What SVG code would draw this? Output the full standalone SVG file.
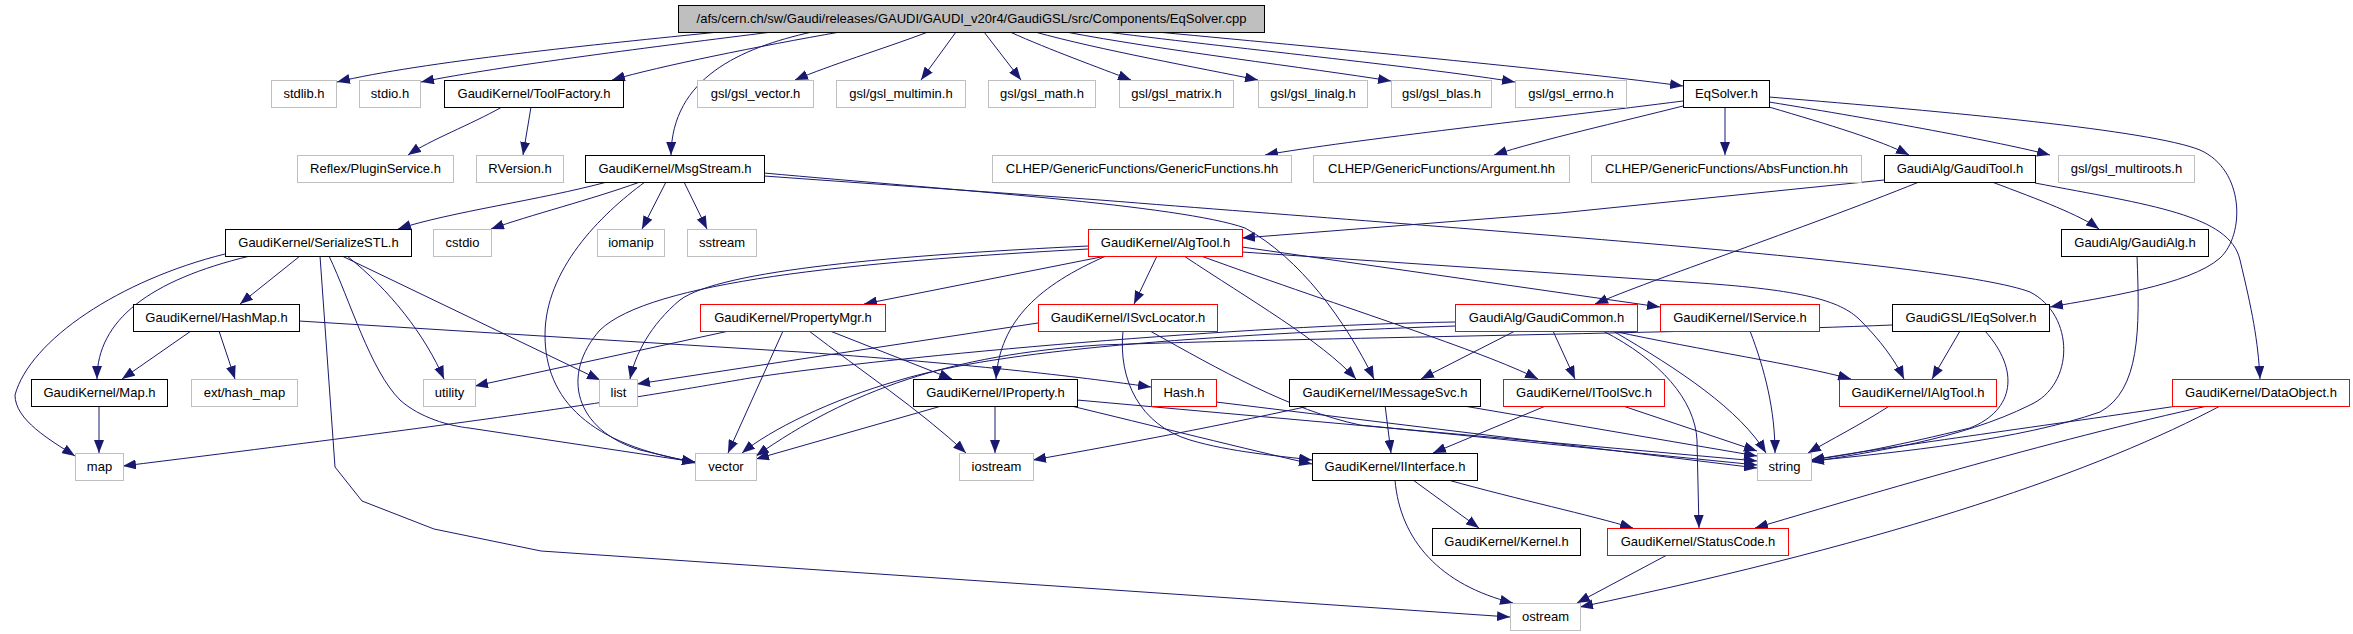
<svg xmlns="http://www.w3.org/2000/svg" width="2353" height="634" viewBox="0 0 2353 634">
<style>
.n rect{stroke-width:1}
.sys rect{fill:#fff;stroke:#bfbfbf}
.ok rect{fill:#fff;stroke:#000}
.tr rect{fill:#fff;stroke:#ff0000}
.root rect{fill:#bfbfbf;stroke:#000}
.n text{font-family:"Liberation Sans",Arial,sans-serif;font-size:13px;fill:#000;text-anchor:middle}
#edges path{fill:none;stroke:#191970;stroke-width:1;marker-end:url(#ah)}
</style>
<defs>
<marker id="ah" markerUnits="userSpaceOnUse" markerWidth="13" markerHeight="10" viewBox="0 0 13 10" refX="13" refY="5" orient="auto">
<path d="M0,0 L13,5 L0,10 z" fill="#191970" stroke="none"/>
</marker>
</defs>
<rect width="2353" height="634" fill="#fff"/>
<g id="edges">
<path d="M719,32 C600,44 420,62 337,82"/>
<path d="M772,32 C660,46 500,66 421,82"/>
<path d="M840,32 C760,46 660,66 612,80"/>
<path d="M812,32 C740,48 672,78 671,155"/>
<path d="M928,32 C880,50 830,65 795,80"/>
<path d="M956,32 L921,80"/>
<path d="M984,32 L1021,80"/>
<path d="M1010,32 C1050,50 1100,68 1131,80"/>
<path d="M1035,32 C1100,50 1200,68 1258,80"/>
<path d="M1066,32 C1160,50 1310,68 1391,81"/>
<path d="M1106,32 C1250,50 1430,68 1515,82"/>
<path d="M1157,32 C1350,50 1580,72 1683,86"/>
<path d="M502,107 C470,125 430,140 408,155"/>
<path d="M531,107 L523,155"/>
<path d="M1683,101 C1550,118 1350,140 1265,155"/>
<path d="M1683,106 C1620,122 1540,140 1494,155"/>
<path d="M1725,107 L1725,155"/>
<path d="M1769,107 C1830,125 1880,140 1909,155"/>
<path d="M1769,102 C1880,120 2000,142 2050,155"/>
<path d="M1769,97 C1950,112 2150,130 2200,150 C2245,170 2245,235 2220,258 C2190,285 2100,298 2050,307"/>
<path d="M607,182 C540,200 450,212 398,229"/>
<path d="M640,182 C590,200 530,215 491,229"/>
<path d="M666,182 L642,229"/>
<path d="M684,182 L707,229"/>
<path d="M645,182 C600,215 545,270 545,335 C545,400 590,445 695,462"/>
<path d="M764,173 C950,190 1180,205 1245,228 C1300,258 1345,320 1374,379"/>
<path d="M764,176 L1100,200 C1500,232 1950,262 2030,292 C2075,315 2075,385 2030,405 C1960,440 1870,452 1811,462"/>
<path d="M300,256 L240,304"/>
<path d="M250,256 C150,280 97,320 97,379"/>
<path d="M225,254 C120,280 30,340 15,395 C15,420 50,440 75,456"/>
<path d="M320,256 L335,467 L362,501 L434,529 L541,551 L1510,617"/>
<path d="M329,256 C350,300 370,370 400,400 C420,418 450,426 469,428 L695,462"/>
<path d="M347,256 C390,290 425,335 444,379"/>
<path d="M342,256 L600,380"/>
<path d="M191,331 L122,379"/>
<path d="M219,331 L235,379"/>
<path d="M299,321 L800,352 C1000,366 1100,380 1151,387"/>
<path d="M99,405 L99,453"/>
<path d="M1106,256 L864,304"/>
<path d="M1088,246 C900,255 720,270 680,300 C650,325 635,355 630,379"/>
<path d="M1088,249 C850,262 650,282 600,330 C560,375 575,430 640,450 L695,463"/>
<path d="M1157,256 L1134,304"/>
<path d="M1184,256 C1250,300 1320,340 1356,379"/>
<path d="M1201,256 C1350,310 1480,350 1538,379"/>
<path d="M1242,247 L1660,307"/>
<path d="M1242,252 L1700,283 C1800,290 1840,300 1860,320 C1880,340 1895,360 1904,379"/>
<path d="M1106,256 C1040,285 1000,320 996,379"/>
<path d="M729,331 L475,386"/>
<path d="M783,331 L728,453"/>
<path d="M809,331 C860,370 920,410 966,453"/>
<path d="M830,331 L952,379"/>
<path d="M1038,323 L637,384"/>
<path d="M1123,331 C1118,380 1140,425 1190,440 C1230,452 1280,456 1312,460"/>
<path d="M1150,331 C1220,370 1290,410 1360,425 L1757,465"/>
<path d="M995,405 L995,453"/>
<path d="M945,405 L756,459"/>
<path d="M1077,400 L1757,461"/>
<path d="M1067,405 C1150,425 1250,450 1312,464"/>
<path d="M1216,402 L1757,468"/>
<path d="M1385,405 L1391,453"/>
<path d="M1314,405 C1200,430 1100,448 1033,460"/>
<path d="M1458,405 L1757,456"/>
<path d="M1548,405 L1433,453"/>
<path d="M1620,405 L1757,451"/>
<path d="M1515,331 L1421,379"/>
<path d="M1553,331 L1575,379"/>
<path d="M1613,331 C1700,350 1800,365 1851,379"/>
<path d="M1603,331 C1660,360 1695,400 1697,440 L1699,528"/>
<path d="M1613,331 C1680,370 1740,410 1766,453"/>
<path d="M1455,322 C1250,325 900,355 750,378 C650,395 560,412 123,466"/>
<path d="M1455,326 C1200,335 1000,350 900,380 C830,400 770,430 742,453"/>
<path d="M1960,331 L1932,379"/>
<path d="M1985,331 C2020,370 2015,410 1970,428 C1900,445 1850,455 1811,460"/>
<path d="M1892,325 C1700,333 1300,338 1100,345 C950,355 850,390 756,456"/>
<path d="M1891,405 C1860,425 1830,440 1808,453"/>
<path d="M1750,331 C1765,370 1775,410 1775,453"/>
<path d="M2137,256 C2140,330 2140,390 2100,412 C2020,440 1900,452 1811,461"/>
<path d="M2184,405 C2050,425 1900,445 1811,460"/>
<path d="M2212,405 C2050,440 1850,500 1755,528"/>
<path d="M2222,405 C2100,470 1900,540 1580,607"/>
<path d="M1884,180 L1560,213 L1242,238"/>
<path d="M1919,182 C1800,230 1650,280 1595,304"/>
<path d="M1992,182 C2040,200 2080,215 2099,229"/>
<path d="M2035,183 C2150,205 2230,215 2240,260 C2252,310 2258,340 2260,379"/>
<path d="M1413,480 L1479,528"/>
<path d="M1395,480 C1400,540 1440,585 1513,603"/>
<path d="M1448,480 C1520,500 1590,515 1633,528"/>
<path d="M1667,555 L1577,603"/>
</g>
<g id="n_root" class="n root"><rect x="678.5" y="5.5" width="586" height="27"/><text x="971.5" y="23">/afs/cern.ch/sw/Gaudi/releases/GAUDI/GAUDI_v20r4/GaudiGSL/src/Components/EqSolver.cpp</text></g>
<g id="n_stdlib" class="n sys"><rect x="271.5" y="80.5" width="65" height="27"/><text x="304" y="98">stdlib.h</text></g>
<g id="n_stdio" class="n sys"><rect x="359.5" y="80.5" width="61" height="27"/><text x="390" y="98">stdio.h</text></g>
<g id="n_toolfactory" class="n ok"><rect x="444.5" y="80.5" width="179" height="27"/><text x="534" y="98">GaudiKernel/ToolFactory.h</text></g>
<g id="n_gsl_vector" class="n sys"><rect x="697.5" y="80.5" width="116" height="27"/><text x="755.5" y="98">gsl/gsl_vector.h</text></g>
<g id="n_gsl_multimin" class="n sys"><rect x="836.5" y="80.5" width="129" height="27"/><text x="901" y="98">gsl/gsl_multimin.h</text></g>
<g id="n_gsl_math" class="n sys"><rect x="988.5" y="80.5" width="107" height="27"/><text x="1042" y="98">gsl/gsl_math.h</text></g>
<g id="n_gsl_matrix" class="n sys"><rect x="1119.5" y="80.5" width="114" height="27"/><text x="1176.5" y="98">gsl/gsl_matrix.h</text></g>
<g id="n_gsl_linalg" class="n sys"><rect x="1258.5" y="80.5" width="109" height="27"/><text x="1313" y="98">gsl/gsl_linalg.h</text></g>
<g id="n_gsl_blas" class="n sys"><rect x="1391.5" y="80.5" width="100" height="27"/><text x="1441.5" y="98">gsl/gsl_blas.h</text></g>
<g id="n_gsl_errno" class="n sys"><rect x="1515.5" y="80.5" width="111" height="27"/><text x="1571" y="98">gsl/gsl_errno.h</text></g>
<g id="n_eqsolver_h" class="n ok"><rect x="1683.5" y="80.5" width="86" height="27"/><text x="1726.5" y="98">EqSolver.h</text></g>
<g id="n_pluginservice" class="n sys"><rect x="297.5" y="155.5" width="156" height="27"/><text x="375.5" y="173">Reflex/PluginService.h</text></g>
<g id="n_rversion" class="n sys"><rect x="476.5" y="155.5" width="87" height="27"/><text x="520" y="173">RVersion.h</text></g>
<g id="n_msgstream" class="n ok"><rect x="585.5" y="155.5" width="179" height="27"/><text x="675" y="173">GaudiKernel/MsgStream.h</text></g>
<g id="n_genericfunctions" class="n sys"><rect x="992.5" y="155.5" width="299" height="27"/><text x="1142" y="173">CLHEP/GenericFunctions/GenericFunctions.hh</text></g>
<g id="n_argument" class="n sys"><rect x="1313.5" y="155.5" width="256" height="27"/><text x="1441.5" y="173">CLHEP/GenericFunctions/Argument.hh</text></g>
<g id="n_absfunction" class="n sys"><rect x="1591.5" y="155.5" width="270" height="27"/><text x="1726.5" y="173">CLHEP/GenericFunctions/AbsFunction.hh</text></g>
<g id="n_gauditool" class="n ok"><rect x="1884.5" y="155.5" width="151" height="27"/><text x="1960" y="173">GaudiAlg/GaudiTool.h</text></g>
<g id="n_gsl_multiroots" class="n sys"><rect x="2058.5" y="155.5" width="136" height="27"/><text x="2126.5" y="173">gsl/gsl_multiroots.h</text></g>
<g id="n_serializestl" class="n ok"><rect x="225.5" y="229.5" width="186" height="27"/><text x="318.5" y="247">GaudiKernel/SerializeSTL.h</text></g>
<g id="n_cstdio" class="n sys"><rect x="433.5" y="229.5" width="58" height="27"/><text x="462.5" y="247">cstdio</text></g>
<g id="n_iomanip" class="n sys"><rect x="597.5" y="229.5" width="67" height="27"/><text x="631" y="247">iomanip</text></g>
<g id="n_sstream" class="n sys"><rect x="687.5" y="229.5" width="69" height="27"/><text x="722" y="247">sstream</text></g>
<g id="n_algtool" class="n tr"><rect x="1088.5" y="229.5" width="154" height="27"/><text x="1165.5" y="247">GaudiKernel/AlgTool.h</text></g>
<g id="n_gaudialg" class="n ok"><rect x="2061.5" y="229.5" width="147" height="27"/><text x="2135" y="247">GaudiAlg/GaudiAlg.h</text></g>
<g id="n_hashmap" class="n ok"><rect x="133.5" y="304.5" width="166" height="27"/><text x="216.5" y="322">GaudiKernel/HashMap.h</text></g>
<g id="n_propertymgr" class="n tr"><rect x="700.5" y="304.5" width="185" height="27"/><text x="793" y="322">GaudiKernel/PropertyMgr.h</text></g>
<g id="n_isvclocator" class="n tr"><rect x="1038.5" y="304.5" width="179" height="27"/><text x="1128" y="322">GaudiKernel/ISvcLocator.h</text></g>
<g id="n_gaudicommon" class="n tr"><rect x="1455.5" y="304.5" width="182" height="27"/><text x="1546.5" y="322">GaudiAlg/GaudiCommon.h</text></g>
<g id="n_iservice" class="n tr"><rect x="1660.5" y="304.5" width="159" height="27"/><text x="1740" y="322">GaudiKernel/IService.h</text></g>
<g id="n_ieqsolver" class="n ok"><rect x="1892.5" y="304.5" width="157" height="27"/><text x="1971" y="322">GaudiGSL/IEqSolver.h</text></g>
<g id="n_map_h" class="n ok"><rect x="31.5" y="379.5" width="136" height="27"/><text x="99.5" y="397">GaudiKernel/Map.h</text></g>
<g id="n_ext_hash_map" class="n sys"><rect x="191.5" y="379.5" width="106" height="27"/><text x="244.5" y="397">ext/hash_map</text></g>
<g id="n_utility" class="n sys"><rect x="423.5" y="379.5" width="52" height="27"/><text x="449.5" y="397">utility</text></g>
<g id="n_list" class="n sys"><rect x="599.5" y="379.5" width="38" height="27"/><text x="618.5" y="397">list</text></g>
<g id="n_iproperty" class="n ok"><rect x="913.5" y="379.5" width="164" height="27"/><text x="995.5" y="397">GaudiKernel/IProperty.h</text></g>
<g id="n_hash" class="n tr"><rect x="1151.5" y="379.5" width="65" height="27"/><text x="1184" y="397">Hash.h</text></g>
<g id="n_imessagesvc" class="n ok"><rect x="1289.5" y="379.5" width="191" height="27"/><text x="1385" y="397">GaudiKernel/IMessageSvc.h</text></g>
<g id="n_itoolsvc" class="n tr"><rect x="1503.5" y="379.5" width="161" height="27"/><text x="1584" y="397">GaudiKernel/IToolSvc.h</text></g>
<g id="n_ialgtool" class="n tr"><rect x="1839.5" y="379.5" width="157" height="27"/><text x="1918" y="397">GaudiKernel/IAlgTool.h</text></g>
<g id="n_dataobject" class="n tr"><rect x="2172.5" y="379.5" width="177" height="27"/><text x="2261" y="397">GaudiKernel/DataObject.h</text></g>
<g id="n_map" class="n sys"><rect x="75.5" y="453.5" width="48" height="27"/><text x="99.5" y="471">map</text></g>
<g id="n_vector" class="n sys"><rect x="695.5" y="453.5" width="61" height="27"/><text x="726" y="471">vector</text></g>
<g id="n_iostream" class="n sys"><rect x="959.5" y="453.5" width="74" height="27"/><text x="996.5" y="471">iostream</text></g>
<g id="n_iinterface" class="n ok"><rect x="1312.5" y="453.5" width="165" height="27"/><text x="1395" y="471">GaudiKernel/IInterface.h</text></g>
<g id="n_string" class="n sys"><rect x="1757.5" y="453.5" width="54" height="27"/><text x="1784.5" y="471">string</text></g>
<g id="n_kernel" class="n ok"><rect x="1432.5" y="528.5" width="148" height="27"/><text x="1506.5" y="546">GaudiKernel/Kernel.h</text></g>
<g id="n_statuscode" class="n tr"><rect x="1607.5" y="528.5" width="181" height="27"/><text x="1698" y="546">GaudiKernel/StatusCode.h</text></g>
<g id="n_ostream" class="n sys"><rect x="1510.5" y="603.5" width="70" height="27"/><text x="1545.5" y="621">ostream</text></g>
</svg>
